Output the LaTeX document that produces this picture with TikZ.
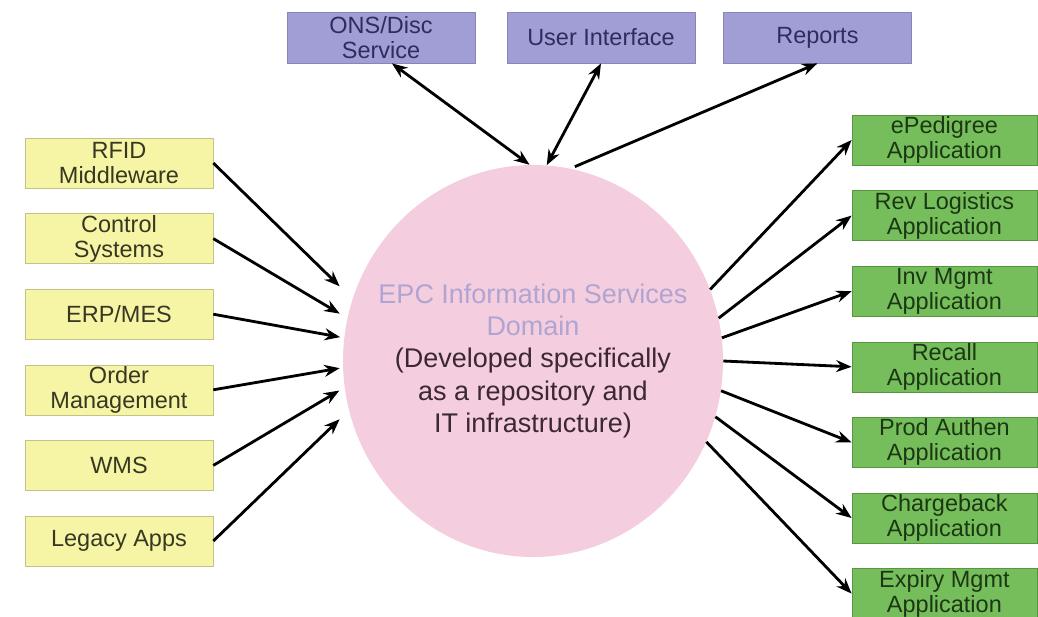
\documentclass[tikz,border=0pt]{standalone}
\usepackage{fontspec}
\setmainfont{Liberation Sans}
\usetikzlibrary{shapes.geometric, arrows, arrows.meta}
\definecolor{lilac}{RGB}{160,158,212}
\definecolor{lilacline}{RGB}{135,133,185}
\definecolor{lilactext}{RGB}{45,45,95}
\definecolor{lemon}{RGB}{245,245,165}
\definecolor{lemonline}{RGB}{195,195,135}
\definecolor{lemontext}{RGB}{55,55,35}
\definecolor{leaf}{RGB}{118,190,92}
\definecolor{leafline}{RGB}{85,150,65}
\definecolor{leaftext}{RGB}{28,55,20}
\definecolor{blush}{RGB}{244,206,222}
\definecolor{epc}{RGB}{176,164,210}
\definecolor{domtext}{RGB}{60,40,50}
\tikzstyle{topbox} = [rectangle, minimum width=4.7cm, minimum height=1.275cm, inner sep=0pt, text centered, align=center, draw=lilacline, fill=lilac, text=lilactext, font=\fontsize{16.7}{17.8}\selectfont]
\tikzstyle{srcbox} = [rectangle, minimum width=4.7cm, minimum height=1.25cm, inner sep=0pt, text centered, align=center, draw=lemonline, fill=lemon, text=lemontext, font=\fontsize{16.7}{17.8}\selectfont]
\tikzstyle{appbox} = [rectangle, minimum width=4.625cm, minimum height=1.25cm, inner sep=0pt, text centered, align=center, draw=leafline, fill=leaf, text=leaftext, font=\fontsize{16.7}{17.8}\selectfont]
\tikzstyle{hubcircle} = [ellipse, minimum width=9.5cm, minimum height=9.8cm, inner sep=0pt, fill=blush]
\tikzstyle{hubtext} = [text centered, align=center, text=domtext, font=\fontsize{19.2}{23.1}\selectfont]
\tikzstyle{arrow} = [line width=2pt,->,>={Stealth[length=11pt,width=8.5pt]}]
\tikzstyle{dblarrow} = [line width=2pt,<->,>={Stealth[length=11pt,width=8.5pt]}]

\begin{document}
\begin{tikzpicture}[node distance=1.89cm]
\useasboundingbox (0,0) rectangle (25.95,-15.4);
\node (dom) [hubcircle] at (13.325,-9.025) {};
\node (domtxt) [hubtext] at (dom.center) {\textcolor{epc}{EPC Information Services}\\\textcolor{epc}{Domain}\\(Developed specifically\\as a repository and\\IT infrastructure)};
% services on top
\node (ons) [topbox] at (9.525,-0.94) {ONS/Disc\\Service};
\node (ui) [topbox, right of=ons, xshift=3.61cm] {User Interface};
\node (rep) [topbox, right of=ui, xshift=3.52cm] {Reports};
% data sources
\node (rfid) [srcbox] at (2.975,-4.075) {RFID\\Middleware};
\node (ctrl) [srcbox, below of=rfid] {Control\\Systems};
\node (erp) [srcbox, below of=ctrl] {ERP/MES};
\node (order) [srcbox, below of=erp] {Order\\Management};
\node (wms) [srcbox, below of=order] {WMS};
\node (legacy) [srcbox, below of=wms] {Legacy Apps};
% applications
\node (eped) [appbox] at (23.61,-3.5) {ePedigree\\Application};
\node (revlog) [appbox, below of=eped] {Rev Logistics\\Application};
\node (invm) [appbox, below of=revlog] {Inv Mgmt\\Application};
\node (recall) [appbox, below of=invm] {Recall\\Application};
\node (prod) [appbox, below of=recall] {Prod Authen\\Application};
\node (chgbk) [appbox, below of=prod] {Chargeback\\Application};
\node (expiry) [appbox, below of=chgbk] {Expiry Mgmt\\Application};
\draw [dblarrow] (ons.-67) -- (dom.91);
\draw [dblarrow] (ui.south) -- (dom.86);
\draw [arrow, shorten <=0.12cm] (dom.79) -- (rep.south);
\draw [arrow, shorten >=0.45cm] (rfid.east) -- (dom.161);
\draw [arrow, shorten >=0.22cm] (ctrl.east) -- (dom.167);
\draw [arrow, shorten >=0.1cm] (erp.east) -- (dom.173);
\draw [arrow, shorten >=0.08cm] (order.east) -- (dom.182);
\draw [arrow, shorten >=0.15cm] (wms.east) -- (dom.188);
\draw [arrow, shorten >=0.32cm] (legacy.east) -- (dom.195);
\draw [arrow] (dom.22) -- (eped.west);
\draw [arrow] (dom.13) -- (revlog.west);
\draw [arrow] (dom.7) -- (invm.west);
\draw [arrow] (dom.0) -- (recall.west);
\draw [arrow] (dom.-9) -- (prod.west);
\draw [arrow] (dom.-17) -- (chgbk.west);
\draw [arrow] (dom.-25) -- (expiry.west);
\end{tikzpicture}
\end{document}
